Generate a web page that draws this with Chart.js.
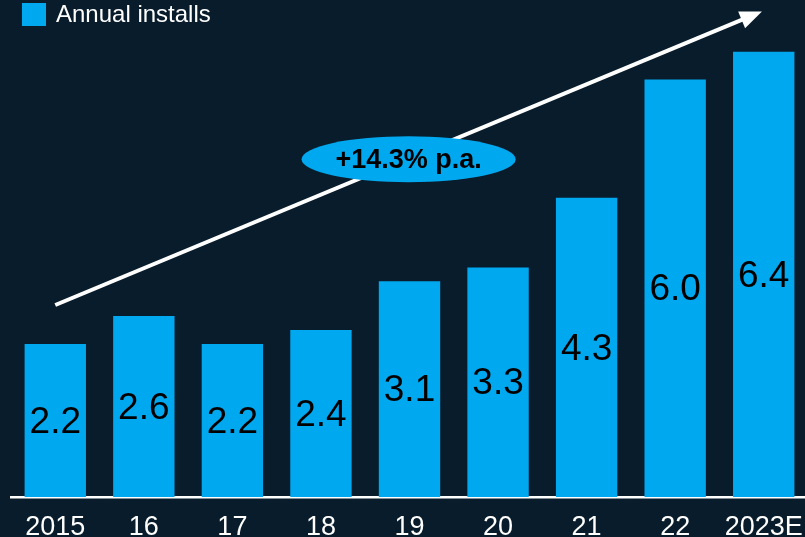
<!DOCTYPE html>
<html>
<head>
<meta charset="utf-8">
<title>Annual installs</title>
<script src="https://cdn.jsdelivr.net/npm/chart.js@4"></script>
<style>
    html, body { margin: 0; padding: 0; background: #081c2c; overflow: hidden; }
    canvas { display: block; }
</style>
</head>
<body>
<canvas id="installsChart" width="808" height="537"></canvas>
<script>
// ========================================
// Annual installs bar chart
// ========================================

const years = ['2015', '16', '17', '18', '19', '20', '21', '22', '2023E'];
const installs = [2.2, 2.6, 2.2, 2.4, 3.1, 3.3, 4.3, 6.0, 6.4];
const yRange = [0, 7];

// trend arrow: [category index, value] at both ends
const trendFrom = [0, 2.76];
const trendTo = [7.98, 6.98];
const trendLabel = '+14.3% p.a.';

const BLUE = '#00a8ef';
const FONT = 'Arial, "Liberation Sans", sans-serif';

// Legend drawn at the top left corner
const legendBox = {
    id: 'legendBox',
    afterDraw: function(chart) {
        const ctx = chart.ctx;
        ctx.save();
        ctx.fillStyle = BLUE;
        ctx.fillRect(22, 3, 24, 23);
        ctx.fillStyle = '#ffffff';
        ctx.font = '24px ' + FONT;
        ctx.textBaseline = 'middle';
        ctx.textAlign = 'left';
        ctx.fillText(chart.data.datasets[0].label, 56, 15);
        ctx.restore();
    }
};

// Values printed in the middle of each bar
const barValues = {
    id: 'barValues',
    afterDatasetsDraw: function(chart) {
        const ctx = chart.ctx;
        const meta = chart.getDatasetMeta(0);
        ctx.save();
        ctx.fillStyle = '#000000';
        ctx.font = '37px ' + FONT;
        ctx.textAlign = 'center';
        ctx.textBaseline = 'middle';
        meta.data.forEach((bar, i) => {
            const mid = (bar.y + bar.base) / 2;
            ctx.fillText(installs[i].toFixed(1), bar.x, mid + 2);
        });
        ctx.restore();
    }
};

// CAGR arrow with its ellipse label
const trendArrow = {
    id: 'trendArrow',
    afterDatasetsDraw: function(chart) {
        const ctx = chart.ctx;
        const x = chart.scales.x;
        const y = chart.scales.y;
        const x0 = x.getPixelForValue(trendFrom[0]);
        const y0 = y.getPixelForValue(trendFrom[1]);
        const x1 = x.getPixelForValue(trendTo[0]);
        const y1 = y.getPixelForValue(trendTo[1]);
        const ang = Math.atan2(y1 - y0, x1 - x0);
        const head = 22;
        const half = 9;

        ctx.save();
        ctx.strokeStyle = '#ffffff';
        ctx.fillStyle = '#ffffff';
        ctx.lineWidth = 4;
        ctx.beginPath();
        ctx.moveTo(x0, y0);
        ctx.lineTo(x1 - Math.cos(ang) * (head - 2), y1 - Math.sin(ang) * (head - 2));
        ctx.stroke();

        const bx = x1 - Math.cos(ang) * head;
        const by = y1 - Math.sin(ang) * head;
        ctx.beginPath();
        ctx.moveTo(x1, y1);
        ctx.lineTo(bx + Math.sin(ang) * half, by - Math.cos(ang) * half);
        ctx.lineTo(bx - Math.sin(ang) * half, by + Math.cos(ang) * half);
        ctx.closePath();
        ctx.fill();

        // label ellipse sits on the middle of the arrow
        const cx = (x0 + x1) / 2;
        const cy = (y0 + y1) / 2 + 1;
        ctx.fillStyle = BLUE;
        ctx.beginPath();
        ctx.ellipse(cx, cy, 107, 23, 0, 0, Math.PI * 2);
        ctx.fill();
        ctx.fillStyle = '#000000';
        ctx.font = 'bold 27px ' + FONT;
        ctx.textAlign = 'center';
        ctx.textBaseline = 'middle';
        ctx.fillText(trendLabel, cx, cy + 1);
        ctx.restore();
    }
};

const ctx = document.getElementById('installsChart').getContext('2d');

new Chart(ctx, {
    type: 'bar',
    data: {
        labels: years,
        datasets: [{
            label: 'Annual installs',
            data: installs,
            backgroundColor: BLUE,
            borderWidth: 0,
            barPercentage: 0.693,
            categoryPercentage: 1
        }]
    },
    options: {
        responsive: false,
        animation: false,
        layout: {
            padding: { left: 11, right: 0, top: 10, bottom: 0 }
        },
        plugins: {
            legend: { display: false },
            tooltip: { enabled: false }
        },
        scales: {
            x: {
                grid: { display: false, drawTicks: false },
                border: { color: '#ffffff', width: 2.5 },
                ticks: {
                    color: '#ffffff',
                    // tall line height pushes the labels down without
                    // adding edge padding to the axis
                    font: { family: FONT, size: 27, lineHeight: 2.24 },
                    padding: 0,
                    maxRotation: 0,
                    autoSkip: false
                },
                afterFit: function(scale) {
                    scale.height = 40;
                }
            },
            y: {
                display: false,
                min: yRange[0],
                max: yRange[1]
            }
        }
    },
    plugins: [legendBox, barValues, trendArrow]
});
</script>
</body>
</html>
